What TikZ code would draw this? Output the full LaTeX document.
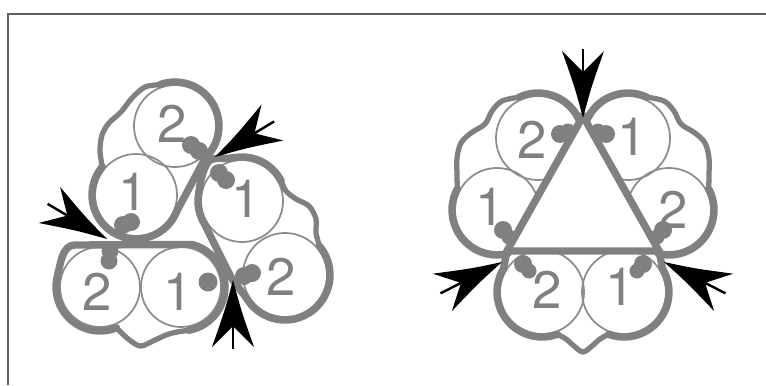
\documentclass[tikz,border=0pt]{standalone}
\usepackage{fontspec}
\newfontfamily\helv{TeX Gyre Heros}
\usetikzlibrary{calc}
\definecolor{ink}{RGB}{128,128,128}
\definecolor{rim}{RGB}{140,140,140}
\definecolor{edge}{RGB}{95,95,95}

\begin{document}
\begin{tikzpicture}[
    x=0.02cm, y=-0.02cm,
    lobe/.style={draw=ink, line width=4.2pt, line cap=round, line join=round},
    bump/.style={draw=ink, line width=3pt, line cap=round, line join=round},
    ring/.style={draw=rim, line width=1pt},
    dot/.style={fill=ink},
    num/.style={text=ink, inner sep=0pt, font=\helv\fontsize{30}{30}\selectfont},
    frame/.style={draw=edge, line width=1.3pt},
    pics/barb/.style={code={
        \fill[black] (0,0) .. controls (-30,8) .. (-67,21) -- (-46,0) -- (-67,-21) .. controls (-30,-8) .. cycle;
        \draw[black, line width=1.4pt] (-46,0) -- (-69,0);
    }}
]
\useasboundingbox (0,0) rectangle (766,385);

% Frame
\draw[frame] (8,385) -- (8,14) -- (766,14);

% Left cluster
\coordinate (P2) at (175,126);
\coordinate (P1) at (136,195);
\coordinate (Q1) at (242,201);
\coordinate (Q2) at (285,275);
\coordinate (R2) at (100,287);
\coordinate (R1) at (181,287);
\coordinate (J3) at (232,279);

\draw[ring] (P2) circle[radius=41];
\draw[ring] (P1) circle[radius=41];
\draw[ring] (Q1) circle[radius=41];
\draw[ring] (Q2) circle[radius=42];
\draw[ring] (R2) circle[radius=40];
\draw[ring] (R1) circle[radius=40];

% upper pair
\draw[bump] plot[smooth, tension=0.55] coordinates {(160,84.7) (145,87) (132,98) (121,112) (109,123) (102,135) (100,151) (102.3,166.7)};
\draw[lobe] ($(P1)+(220:44)$) arc[start angle=220, end angle=20, radius=44]
    -- ($(P2)+(46:44)$) arc[start angle=46, end angle=-110, radius=44];

% right pair
\draw[bump] plot[smooth, tension=0.55] coordinates {(319.5,246) (316,233) (316,219) (309,206) (296,199) (286,191) (281.2,181)};
\draw[lobe] ($(Q1)+(-27:44)$) arc[start angle=-27, end angle=-100, radius=44]
    .. controls (224,159.4) and (216,157) .. (210,160)
    .. controls (203,166) and (199.7,185) .. ($(Q1)+(-170:44)$)
    arc[start angle=-170, end angle=-210, radius=44]
    -- (J3) -- ($(Q2)+(150:45)$) arc[start angle=150, end angle=-40, radius=45];

% lower pair
\draw[bump] plot[smooth, tension=0.55] coordinates {(116.5,327.8) (127,338) (140,346) (153,341) (166,335) (177,332) (188.6,330.3)};
\draw[lobe] ($(R1)+(80:44)$) arc[start angle=80, end angle=-75, radius=44]
    -- (75,245) .. controls (62,245) and (60.6,264) .. ($(R2)+(195:44)$)
    arc[start angle=195, end angle=68, radius=44];

% binding dots
\fill[dot] (191,145) circle[radius=9] (199,151) circle[radius=9];
\fill[dot] (219,173) circle[radius=9] (226,180) circle[radius=9];
\fill[dot] (123,225) circle[radius=9] (131,222) circle[radius=9];
\fill[dot] (110,251) circle[radius=8.5] (109,261) circle[radius=8.5];
\fill[dot] (244,276) circle[radius=9] (252,273) circle[radius=9];
\fill[dot] (208,282) circle[radius=9.5];

\node[num] (nP2) at (172,124) {2};
\node[num] (nP1) at (133,192) {1};
\node[num] (nQ1) at (246,199) {1};
\node[num] (nQ2) at (281,277) {2};
\node[num] (nR2) at (97,292) {2};
\node[num] (nR1) at (178,292) {1};

% Right cluster
\coordinate (TL) at (538,138);
\coordinate (TR) at (628,138);
\coordinate (L) at (497,210);
\coordinate (R) at (669,210);
\coordinate (BL) at (542,292);
\coordinate (BR) at (624,292);
\coordinate (Vtop) at (583,116);
\coordinate (VL) at (507,251);
\coordinate (VR) at (659,251);

\foreach \c in {TL,TR,L,R,BL,BR}
    \draw[ring] (\c) circle[radius=42];
\fill[white] (Vtop) -- (VL) -- (VR) -- cycle;

% top-left pair
\draw[bump] plot[smooth, tension=0.55] coordinates {(519,97.2) (502,101) (492,111) (485,124) (471,133) (461,143) (457,158) (457,175) (457.3,188.9)};
\draw[lobe] ($(L)+(208:45)$) arc[start angle=208, end angle=76, radius=45]
    -- (VL) -- (Vtop) -- ($(TL)+(-28:45)$) arc[start angle=-28, end angle=-115, radius=45];

% top-right pair
\draw[bump] plot[smooth, tension=0.55] coordinates {(647,97.2) (664,101) (674,111) (681,124) (695,133) (705,143) (709,158) (709,175) (708.7,188.9)};
\draw[lobe] ($(R)+(-28:45)$) arc[start angle=-28, end angle=104, radius=45]
    -- (VR) -- (Vtop) -- ($(TR)+(208:45)$) arc[start angle=208, end angle=295, radius=45];

% bottom pair
\draw[bump] plot[smooth, tension=0.55] coordinates {(557.4,334.3) (566,339) (574,346) (583,352) (592,346) (600,339) (608.6,334.3)};
\draw[lobe] ($(BR)+(110:45)$) arc[start angle=110, end angle=-31, radius=45]
    -- (VR) -- (VL) -- ($(BL)+(211:45)$) arc[start angle=211, end angle=70, radius=45];

% binding dots
\fill[dot] (560,134) circle[radius=9] (568,131) circle[radius=7.5];
\fill[dot] (606,134) circle[radius=9] (598,131) circle[radius=7.5];
\fill[dot] (503,230) circle[radius=9] (509,237) circle[radius=7.5];
\fill[dot] (663,230) circle[radius=9] (657,237) circle[radius=7.5];
\fill[dot] (523,264) circle[radius=9] (529,271) circle[radius=7.5];
\fill[dot] (643,264) circle[radius=9] (637,271) circle[radius=7.5];

\node[num] (nTL) at (532,140) {2};
\node[num] (nTR) at (632,137) {1};
\node[num] (nL) at (490,207) {1};
\node[num] (nR) at (673,210) {2};
\node[num] (nBL) at (547,290) {2};
\node[num] (nBR) at (620,287) {1};

% Arrows
\pic[rotate=-149] at (215,157) {barb};
\pic[rotate=-30.6] at (107,239) {barb};
\pic[rotate=90] at (233,280) {barb};
\pic[rotate=-90] at (583,118) {barb};
\pic[rotate=27] at (502,262) {barb};
\pic[rotate=153] at (664,262) {barb};

\end{tikzpicture}
\end{document}
